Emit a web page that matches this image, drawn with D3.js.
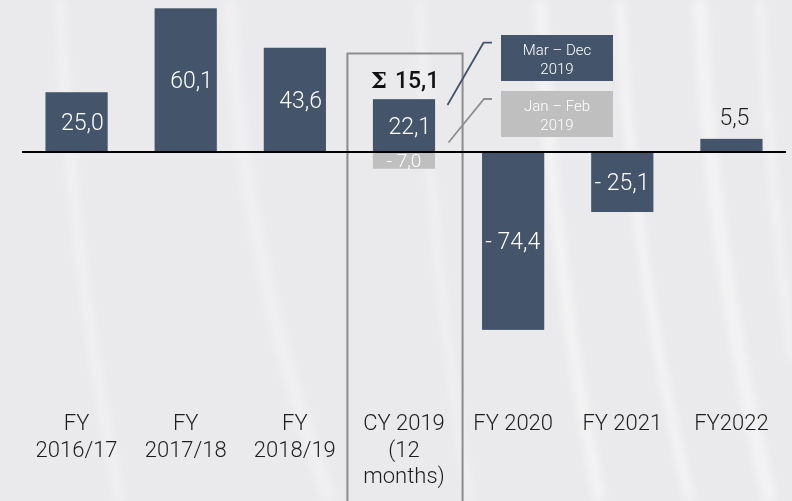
<!DOCTYPE html>
<html>
<head>
<meta charset="utf-8">
<script src="https://cdn.jsdelivr.net/npm/d3@7"></script>
<style>
  body { margin: 0; padding: 0; background: #eaeaec; }
  svg { display: block; }
</style>
</head>
<body>
<div id="chart"></div>
<script>
// data
var categories = ['FY 2016/17', 'FY 2017/18', 'FY 2018/19', 'CY 2019', 'FY 2020', 'FY 2021', 'FY2022'];
var categoryLines = [
  ['FY', '2016/17'],
  ['FY', '2017/18'],
  ['FY', '2018/19'],
  ['CY 2019', '(12', 'months)'],
  ['FY 2020'],
  ['FY 2021'],
  ['FY2022']
];
var values = [25.0, 60.1, 43.6, 22.1, -74.4, -25.1, 5.5];
var janFebCategory = 'CY 2019';
var janFebValue = -7.0;
var legendLabels = [['Mar – Dec', '2019'], ['Jan – Feb', '2019']];

var svgWidth = 792;
var svgHeight = 501;
var darkColor = '#44546a';
var grayColor = '#bfbfbf';

var svg = d3.select('#chart')
  .append('svg')
  .attr('width', svgWidth)
  .attr('height', svgHeight);

// background with soft light streaks
var defs = svg.append('defs');
defs.append('filter').attr('id', 'blur')
  .append('feGaussianBlur').attr('stdDeviation', 4);

svg.append('rect')
  .attr('width', svgWidth)
  .attr('height', svgHeight)
  .attr('fill', '#eaeaec');

var streaks = [
  [60, 0, 120, 501, 10, 0.35],
  [230, 0, 330, 501, 14, 0.3],
  [420, 0, 470, 501, 8, 0.35],
  [540, 0, 600, 501, 12, 0.45],
  [620, 0, 690, 501, 9, 0.5],
  [700, 0, 770, 501, 14, 0.45],
  [760, 0, 792, 360, 8, 0.4]
];
svg.append('g')
  .attr('filter', 'url(#blur)')
  .selectAll('path')
  .data(streaks)
  .enter()
  .append('path')
  .attr('d', d => `M${d[0]},${d[1]} Q${d[0] + 10},${d[3] / 2} ${d[2]},${d[3]}`)
  .attr('fill', 'none')
  .attr('stroke', '#ffffff')
  .attr('stroke-width', d => d[4])
  .attr('opacity', d => d[5]);

// scales
var x = d3.scaleBand()
  .domain(categories)
  .range([22, 786])
  .paddingInner(0.43)
  .paddingOuter(0.215);

var y = d3.scaleLinear()
  .domain([0, 60.1])
  .range([152, 8.3]);

function fmt(v) {
  var s = d3.format('.1f')(Math.abs(v)).replace('.', ',');
  return v < 0 ? '- ' + s : s;
}

var chartGroup = svg.append('g');

// frame around CY 2019
var gap = (x.step() - x.bandwidth()) / 2;
chartGroup.append('rect')
  .attr('x', x(janFebCategory) - gap - 2)
  .attr('y', 53.5)
  .attr('width', x.step() + 6)
  .attr('height', svgHeight)
  .attr('fill', 'none')
  .attr('stroke', '#8c8c8c')
  .attr('stroke-width', 2);

// jan-feb bar
chartGroup.append('rect')
  .attr('x', x(janFebCategory))
  .attr('y', y(0))
  .attr('width', x.bandwidth())
  .attr('height', y(janFebValue) - y(0))
  .attr('fill', grayColor);

// main bars
chartGroup.selectAll('.bar')
  .data(values)
  .enter()
  .append('rect')
  .attr('class', 'bar')
  .attr('x', (d, i) => x(categories[i]))
  .attr('y', d => y(Math.max(0, d)))
  .attr('width', x.bandwidth())
  .attr('height', d => Math.abs(y(d) - y(0)))
  .attr('fill', darkColor);

// value labels inside bars
chartGroup.selectAll('.val')
  .data(values)
  .enter()
  .filter(d => Math.abs(d) > 10)
  .append('text')
  .attr('class', 'val')
  .attr('x', d => x(categories[values.indexOf(d)]) + x.bandwidth() - 4)
  .attr('y', d => (y(d) + y(0)) / 2)
  .attr('dy', '0.36em')
  .attr('text-anchor', 'end')
  .attr('font-family', 'Roboto, sans-serif')
  .attr('font-weight', 300)
  .attr('font-size', '23px')
  .attr('fill', '#ffffff')
  .text(d => fmt(d));

// small value above bar
values.forEach(function(v, i) {
  if (Math.abs(v) <= 10) {
    chartGroup.append('text')
      .attr('x', x(categories[i]) + x.bandwidth() / 2 + 3)
      .attr('y', y(v) - 14)
      .attr('text-anchor', 'middle')
      .attr('font-family', 'Roboto, sans-serif')
      .attr('font-weight', 300)
      .attr('font-size', '23px')
      .attr('fill', '#1e1e1e')
      .text(fmt(v));
  }
});

// jan-feb label
chartGroup.append('text')
  .attr('x', x(janFebCategory) + x.bandwidth() / 2)
  .attr('y', (y(janFebValue) + y(0)) / 2)
  .attr('dy', '0.36em')
  .attr('text-anchor', 'middle')
  .attr('font-family', 'Roboto, sans-serif')
  .attr('font-weight', 300)
  .attr('font-size', '19px')
  .attr('fill', '#ffffff')
  .text(fmt(janFebValue));

// zero line
chartGroup.append('line')
  .attr('x1', x.range()[0])
  .attr('x2', x.range()[1])
  .attr('y1', y(0))
  .attr('y2', y(0))
  .attr('stroke', '#000000')
  .attr('stroke-width', 2);

// sum label
var cyIndex = categories.indexOf(janFebCategory);
var sumValue = values[cyIndex] + janFebValue;
var sumText = chartGroup.append('text')
  .attr('x', x(janFebCategory) + x.bandwidth() / 2 + 1)
  .attr('y', y(values[cyIndex]) - 11)
  .attr('text-anchor', 'middle')
  .attr('font-size', '23px')
  .attr('font-weight', 'bold')
  .attr('fill', '#111111');
sumText.append('tspan')
  .attr('font-family', 'DejaVu Serif, serif')
  .text('Σ ');
sumText.append('tspan')
  .attr('font-family', 'Roboto, sans-serif')
  .attr('font-weight', 500)
  .text(fmt(sumValue));

// legend boxes with connectors
var legendGroup = svg.append('g');
var legendColors = [darkColor, grayColor];
var legendLines = ['#44546a', '#8f8f8f'];
var connectors = [
  [[447.5, 105], [483.5, 42.7], [492, 42.7]],
  [[448.5, 142.5], [484, 99], [492, 99]]
];

legendLabels.forEach(function(lbl, i) {
  var top = 35 + i * 56;
  legendGroup.append('rect')
    .attr('x', 501)
    .attr('y', top)
    .attr('width', 112)
    .attr('height', 46)
    .attr('fill', legendColors[i]);
  legendGroup.append('text')
    .attr('x', 557)
    .attr('y', top + 20)
    .attr('text-anchor', 'middle')
    .attr('font-family', 'Roboto, sans-serif')
    .attr('font-weight', 300)
    .attr('font-size', '15px')
    .attr('fill', '#ffffff')
    .selectAll('tspan')
    .data(lbl)
    .enter()
    .append('tspan')
    .attr('x', 557)
    .attr('dy', (d, j) => j === 0 ? 0 : 19)
    .text(d => d);
  legendGroup.append('path')
    .attr('d', d3.line()(connectors[i]))
    .attr('fill', 'none')
    .attr('stroke', legendLines[i])
    .attr('stroke-width', 1.8);
});

// category labels
var catGroup = svg.append('g');
categories.forEach(function(c, i) {
  var t = catGroup.append('text')
    .attr('x', x(c) + x.bandwidth() / 2)
    .attr('y', 430)
    .attr('text-anchor', 'middle')
    .attr('font-family', 'Roboto, sans-serif')
    .attr('font-weight', 300)
    .attr('font-size', '22px')
    .attr('fill', '#1e1e1e');
  t.selectAll('tspan')
    .data(categoryLines[i])
    .enter()
    .append('tspan')
    .attr('x', x(c) + x.bandwidth() / 2)
    .attr('dy', (d, j) => j === 0 ? 0 : 26.5)
    .text(d => d);
});
</script>
</body>
</html>
